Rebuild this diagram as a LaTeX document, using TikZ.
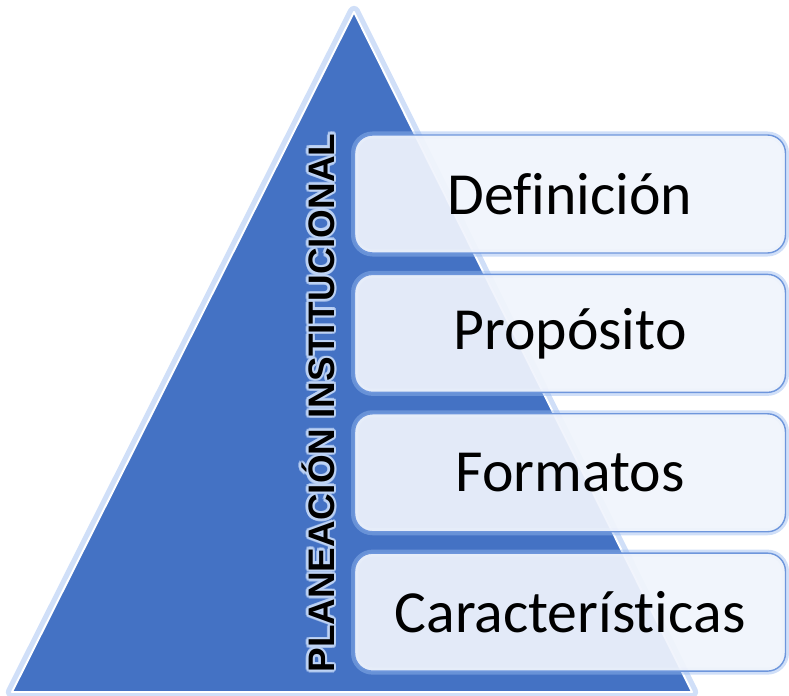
\documentclass[tikz,border=0pt]{standalone}
\usepackage{fontspec}
\setmainfont{Carlito}[Ligatures={NoCommon,NoRequired,NoContextual}]
\newfontfamily\titlefont{Liberation Sans}
\usetikzlibrary{positioning}
\definecolor{triblue}{RGB}{68,114,196}
\definecolor{glowblue}{RGB}{150,185,240}
\definecolor{boxfill}{RGB}{240,244,252}
\definecolor{boxline}{RGB}{110,150,220}

\begin{document}
\begin{tikzpicture}[x=0.02cm,y=-0.02cm,node distance=4mm,font=\fontsize{34}{40}\selectfont]
    \tikzstyle{item}=[draw=boxline,line width=0.8pt,fill=boxfill,fill opacity=0.93,text opacity=1,
        rounded corners=3.6mm,minimum width=8.62cm,minimum height=2.36cm,inner sep=0pt,
        preaction={draw=glowblue,line width=4pt,opacity=0.45}]
    \tikzstyle{heading}=[rotate=90,font=\titlefont\bfseries\fontsize{21}{25}\selectfont]

    \useasboundingbox (0,0) rectangle (789,696);

    % pyramid
    \draw[preaction={draw=glowblue,line width=7pt,opacity=0.45,line join=round},
        draw=white,line width=1.1pt,line join=round,fill=triblue]
        (354,12) -- (692,692) -- (12,692) -- cycle;

    \node[item] at (570,194) (def) {Definición};
    \node[item,below=of def] (prop) {Propósito};
    \node[item,below=of prop] (form) {Formatos};
    \node[item,below=of form] (car) {Características};

    % title with a soft halo
    \foreach \a in {0,30,...,330}
        \node[heading,text=white!40!glowblue,opacity=0.7,shift={(\a:1.4pt)}] (halo\a) at (318,403) {PLANEACIÓN INSTITUCIONAL};
    \node[heading] (title) at (318,403) {PLANEACIÓN INSTITUCIONAL};
\end{tikzpicture}
\end{document}
